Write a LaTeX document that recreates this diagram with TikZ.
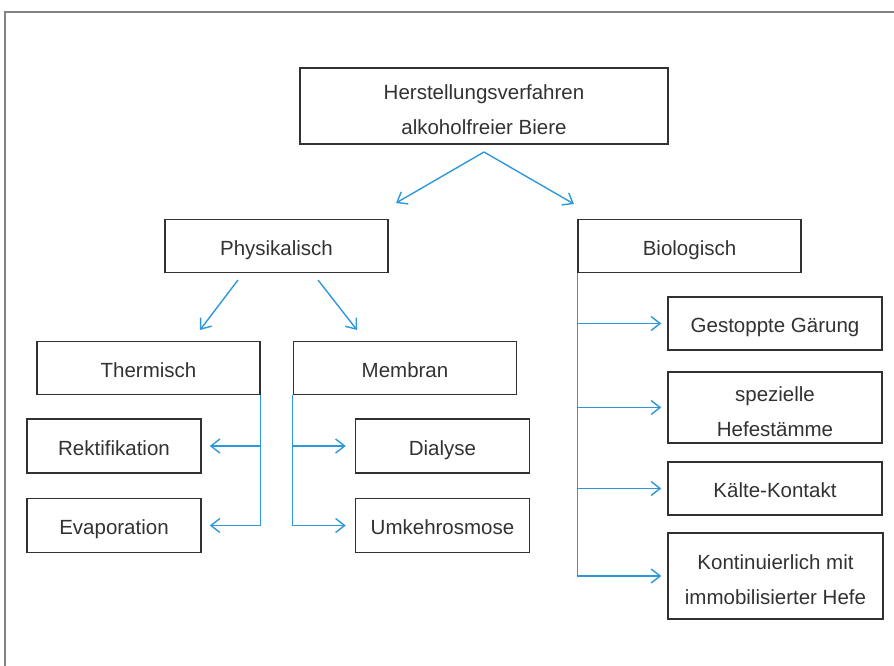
\documentclass[tikz,border=0pt]{standalone}
\usepackage{fontspec}
\setmainfont{Liberation Sans}
\usetikzlibrary{arrows.meta}
\definecolor{linkblue}{RGB}{45,152,218}
\definecolor{boxgray}{RGB}{50,50,50}
\definecolor{framegray}{RGB}{130,130,130}
\newcommand{\toplift}{\rule{0pt}{23pt}}

\begin{document}
\begin{tikzpicture}[x=1pt,y=-1pt]
    \useasboundingbox (0,0) rectangle (894,666);

    \tikzstyle{every node}=[font=\fontsize{20.5}{35}\selectfont, text=boxgray]
    \tikzstyle{box}=[draw=boxgray, line width=1.5pt, align=center, inner sep=0pt]
    \tikzstyle{oneline}=[text height=22pt, text depth=4pt]
    \tikzstyle{topbox}=[box, minimum width=368pt, minimum height=76pt]
    \tikzstyle{midbox}=[box, oneline, minimum width=223pt, minimum height=53pt]
    \tikzstyle{leafbox}=[box, oneline, minimum width=174pt, minimum height=54pt]
    \tikzstyle{biobox}=[box, minimum width=214pt, minimum height=53pt]

    % frame
    \draw[framegray, line width=2pt] (894,12) -- (5,12) -- (5,666);

    \node[topbox] (root) at (484,106) {\toplift Herstellungsverfahren\\alkoholfreier Biere};

    \node[midbox] (phys) at (276.5,246) {Physikalisch};
    \node[midbox] (bio) at (689.5,246) {Biologisch};

    \node[midbox] (therm) at (148.5,368) {Thermisch};
    \node[midbox] (membr) at (405,368) {Membran};

    \node[leafbox] (rekt) at (114,446) {Rektifikation};
    \node[leafbox] (evap) at (114,525.5) {Evaporation};
    \node[leafbox] (dial) at (442.5,446) {Dialyse};
    \node[leafbox] (umk) at (442.5,525.5) {Umkehrosmose};

    \node[biobox, oneline] (gest) at (775,323.5) {Gestoppte Gärung};
    \node[biobox, minimum height=71pt] (spez) at (775,407.5) {\toplift spezielle\\Hefestämme};
    \node[biobox, oneline] (kalt) at (775,488.5) {Kälte-Kontakt};
    \node[biobox, minimum width=215pt, minimum height=86pt] (kont) at (775.5,576) {\toplift Kontinuierlich mit\\immobilisierter Hefe};

    \coordinate (rootfork) at (484,152);
    \coordinate (physin) at (396,203);
    \coordinate (bioin) at (574,204);
    \coordinate (physl) at (238,280);
    \coordinate (physr) at (318,280);
    \coordinate (thermin) at (200,330);
    \coordinate (membrin) at (357,330);

    \tikzstyle{fwd}=[draw=linkblue, line width=1.4pt, -{Straight Barb[length=9pt,width=14pt]}]

    \draw [fwd] (rootfork) -- (physin);
    \draw [fwd] (rootfork) -- (bioin);
    \draw [fwd] (physl) -- (thermin);
    \draw [fwd] (physr) -- (membrin);

    \draw [fwd, shorten >=8pt] (therm.south east) |- (rekt.east);
    \draw [fwd, shorten >=8pt] (therm.south east) |- (evap.east);
    \draw [fwd, shorten >=9pt] (membr.south west) |- (dial.west);
    \draw [fwd, shorten >=9pt] (membr.south west) |- (umk.west);

    \draw [fwd, shorten >=6pt] (bio.south west) |- (gest.west);
    \draw [fwd, shorten >=6pt] (bio.south west) |- (spez.west);
    \draw [fwd, shorten >=6pt] (bio.south west) |- (kalt.west);
    \draw [fwd, shorten >=6pt] (bio.south west) |- (kont.west);
\end{tikzpicture}
\end{document}
